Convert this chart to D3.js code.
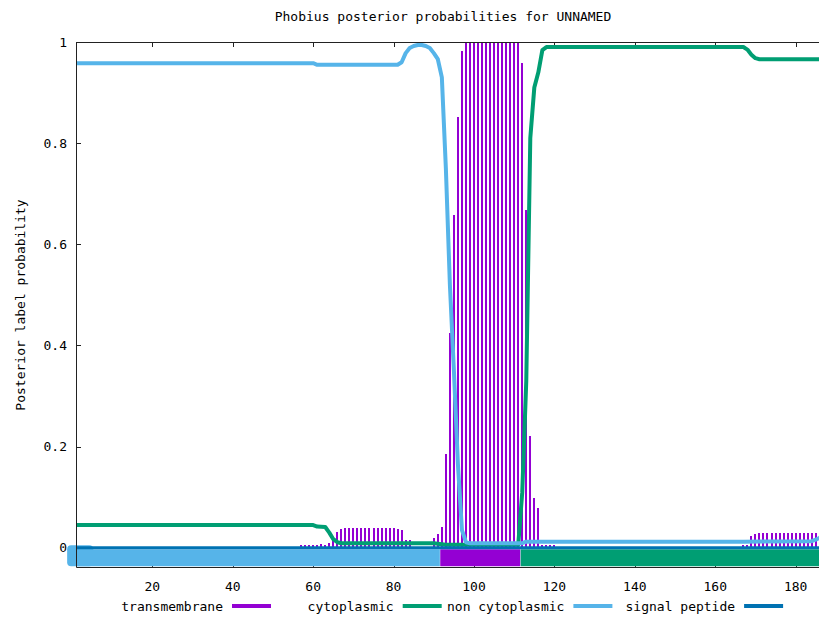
<!DOCTYPE html>
<html>
<head>
<meta charset="utf-8">
<script src="https://cdn.jsdelivr.net/npm/d3@7"></script>
<style>
  body { margin: 0; background: #fff; }
  text { font-family: "DejaVu Sans Mono", monospace; font-size: 13px; fill: #000; }
</style>
</head>
<body>
<div id="chart"></div>
<script>
// Series names, in legend order
const seriesNames = ['transmembrane', 'cytoplasmic', 'non cytoplasmic', 'signal peptide'];
const seriesColours = ['#9400d3', '#009e73', '#56b4e9', '#0072b2'];

// transmembrane posterior, one value per residue (1..187)
const transmembrane = [
  0, 0, 0, 0, 0, 0, 0, 0, 0, 0,
  0, 0, 0, 0, 0, 0, 0, 0, 0, 0,
  0, 0, 0, 0, 0, 0, 0, 0, 0, 0,
  0, 0, 0, 0, 0, 0, 0, 0, 0, 0,
  0, 0, 0, 0, 0, 0, 0, 0, 0, 0,
  0, 0, 0, 0, 0, 0, 0.006, 0.006, 0.006, 0.006,
  0.006, 0.007, 0.006, 0.010, 0.020, 0.032, 0.038, 0.040, 0.040, 0.040,
  0.040, 0.040, 0.040, 0.040, 0.040, 0.040, 0.040, 0.040, 0.040, 0.039,
  0.038, 0.035, 0.015, 0.015, 0, 0, 0, 0, 0, 0.019,
  0.027, 0.041, 0.185, 0.425, 0.658, 0.851, 0.983, 1, 1, 1,
  1, 1, 1, 1, 1, 1, 1, 1, 1, 1,
  1, 0.958, 0.667, 0.221, 0.098, 0.079, 0.006, 0.006, 0.006, 0.006,
  0, 0, 0, 0, 0, 0, 0, 0, 0, 0,
  0, 0, 0, 0, 0, 0, 0, 0, 0, 0,
  0, 0, 0, 0, 0, 0, 0, 0, 0, 0,
  0, 0, 0, 0, 0, 0, 0, 0, 0, 0,
  0, 0, 0, 0, 0, 0, 0.006, 0.006, 0.023, 0.027,
  0.030, 0.030, 0.030, 0.030, 0.030, 0.030, 0.030, 0.030, 0.030, 0.030,
  0.030, 0.030, 0.030, 0.030, 0.030, 0.030, 0.030
];

// curves as [residue, probability] read where the line bends
const cytoplasmic = [
  [1, 0.045], [60, 0.045], [61, 0.042], [63, 0.041], [64, 0.030], [65, 0.017],
  [66, 0.011], [67, 0.009], [90, 0.009], [93, 0.006], [111, 0.006], [112, 0.11],
  [113, 0.33], [114, 0.81], [115, 0.91], [116, 0.94], [117, 0.984], [118, 0.99],
  [167, 0.99], [168, 0.985], [169, 0.975], [170, 0.968], [171, 0.966], [187, 0.966]
];
const nonCytoplasmic = [
  [1, 0.958], [60, 0.958], [61, 0.955], [81, 0.955], [82, 0.96], [83, 0.978],
  [84, 0.988], [85, 0.992], [86, 0.994], [87, 0.994], [88, 0.992], [89, 0.988],
  [90, 0.978], [91, 0.966], [92, 0.93], [93, 0.75], [94, 0.52], [95, 0.35],
  [96, 0.165], [97, 0.035], [98, 0.011], [99, 0.009], [112, 0.009], [113, 0.012],
  [167, 0.012], [184, 0.013], [185, 0.016], [186, 0.02], [187, 0.026]
];
const signalPeptide = [[1, 0], [187, 0]];

// predicted topology along the bottom: [first residue, last residue, series index]
const regions = [[1, 91, 2], [92, 111, 0], [112, 188, 1]];

const xTicks = [20, 40, 60, 80, 100, 120, 140, 160, 180];
const yTicks = [0, 0.2, 0.4, 0.6, 0.8, 1];

const width = 819;
const height = 617;
const plotLeft = 76, plotTop = 42, plotBottom = 567;

const x = d3.scaleLinear().domain([1, 188]).range([plotLeft, 827.8]);
const y = d3.scaleLinear().domain([-0.038, 1]).range([plotBottom, plotTop]);

const svg = d3.select('#chart').append('svg')
  .attr('width', width)
  .attr('height', height);

// title + y label
svg.append('text')
  .attr('x', 443).attr('y', 21)
  .attr('text-anchor', 'middle')
  .text('Phobius posterior probabilities for UNNAMED');

svg.append('text')
  .attr('transform', 'translate(25,305) rotate(-90)')
  .attr('text-anchor', 'middle')
  .text('Posterior label probability');

// ticks
const axes = svg.append('g').attr('stroke', '#222').attr('stroke-width', 1);
yTicks.forEach(t => {
  axes.append('line')
    .attr('x1', plotLeft).attr('x2', plotLeft + 5)
    .attr('y1', Math.round(y(t)) + 0.5).attr('y2', Math.round(y(t)) + 0.5);
  svg.append('text')
    .attr('x', 67).attr('y', y(t) + 4.5)
    .attr('text-anchor', 'end')
    .text(d3.format('~g')(t));
});
xTicks.forEach(t => {
  const px = Math.round(x(t)) + 0.5;
  axes.append('line').attr('x1', px).attr('x2', px).attr('y1', plotTop).attr('y2', plotTop + 5);
  axes.append('line').attr('x1', px).attr('x2', px).attr('y1', plotBottom).attr('y2', plotBottom - 5);
  svg.append('text')
    .attr('x', x(t)).attr('y', 591)
    .attr('text-anchor', 'middle')
    .text(t);
});

// topology bands (under everything else)
svg.append('rect')
  .attr('x', x(-1.2)).attr('y', y(0.005))
  .attr('width', x(5.3) - x(-1.2)).attr('height', y(-0.0365) - y(0.005))
  .attr('rx', 4)
  .attr('fill', seriesColours[2]);
svg.append('g').selectAll('rect')
  .data(regions)
  .enter().append('rect')
    .attr('x', d => x(Math.max(1, d[0] - 0.4)))
    .attr('y', y(-0.003))
    .attr('width', d => x(d[1] + 0.5) - x(Math.max(1, d[0] - 0.4)))
    .attr('height', y(-0.0365) - y(-0.003))
    .attr('fill', d => seriesColours[d[2]]);

// transmembrane impulses
svg.append('g').selectAll('line')
  .data(transmembrane.map((v, i) => [i + 1, v]).filter(d => d[1] > 0))
  .enter().append('line')
    .attr('x1', d => Math.round(x(d[0]))).attr('x2', d => Math.round(x(d[0])))
    .attr('y1', y(0)).attr('y2', d => Math.round(y(d[1])))
    .attr('stroke', seriesColours[0])
    .attr('stroke-width', 2);

// curves
const line = d3.line().x(d => x(d[0])).y(d => y(d[1]));
[cytoplasmic, nonCytoplasmic, signalPeptide].forEach((series, i) => {
  svg.append('path')
    .datum(series)
    .attr('d', line)
    .attr('fill', 'none')
    .attr('stroke', seriesColours[i + 1])
    .attr('stroke-width', i === 2 ? 3 : 4)
    .attr('stroke-linejoin', 'round');
});

// border (no right side, it is off the picture)
svg.append('path')
  .attr('d', `M${width},${plotTop + 0.5}H${plotLeft + 0.5}V${plotBottom + 0.5}H${width}`)
  .attr('fill', 'none')
  .attr('stroke', '#222')
  .attr('stroke-width', 1);

// legend
const legend = svg.append('g');
seriesNames.forEach((name, i) => {
  const end = 223 + 170.7 * i;
  legend.append('text')
    .attr('x', end).attr('y', 611)
    .attr('text-anchor', 'end')
    .text(name);
  legend.append('line')
    .attr('x1', end + 9).attr('x2', end + 48)
    .attr('y1', 606).attr('y2', 606)
    .attr('stroke', seriesColours[i])
    .attr('stroke-width', 4);
});
</script>
</body>
</html>
